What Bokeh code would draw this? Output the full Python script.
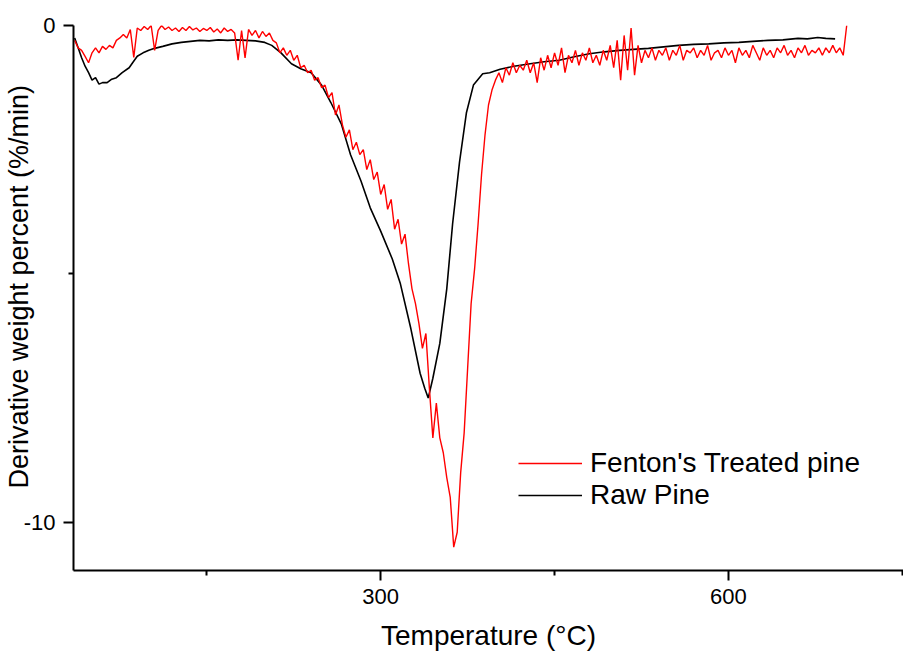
from bokeh.plotting import figure
from bokeh.models import FixedTicker, Legend, LegendItem, Range1d
from bokeh.embed import file_html
from bokeh.resources import INLINE

# ---------------- data ----------------
# Raw pine DTG curve (temperature in degC, derivative weight %/min)
raw_T = [36, 39, 42, 45, 48, 51, 54, 57, 60, 64, 68, 72, 77, 83, 86, 90, 95, 100,
         105, 112, 120, 128, 136, 144, 152, 160, 168, 176, 184, 192, 200, 206,
         214, 223, 231, 240, 249, 257, 266, 274, 283, 291, 300, 310, 317, 326,
         334, 338, 341, 345, 351, 357, 362, 368, 374, 380, 388, 394, 403, 415,
         429, 441, 454, 467, 480, 493, 506, 518, 531, 544, 557, 570, 583, 596,
         609, 621, 634, 647, 660, 668, 677, 684, 692]
raw_dtg = [-0.25, -0.45, -0.65, -0.82, -0.95, -1.1, -1.05, -1.18, -1.15, -1.15,
           -1.08, -1.05, -0.95, -0.85, -0.75, -0.62, -0.55, -0.5, -0.46, -0.42,
           -0.37, -0.34, -0.32, -0.3, -0.31, -0.29, -0.3, -0.29, -0.3, -0.31,
           -0.34, -0.4, -0.55, -0.77, -0.87, -0.95, -1.2, -1.55, -1.98, -2.6,
           -3.13, -3.67, -4.14, -4.7, -5.2, -6.1, -7.0, -7.3, -7.5, -7.1, -6.4,
           -5.3, -4.0, -2.75, -1.75, -1.2, -0.97, -0.95, -0.88, -0.82, -0.77,
           -0.73, -0.7, -0.63, -0.57, -0.53, -0.5, -0.48, -0.46, -0.43, -0.4,
           -0.38, -0.37, -0.35, -0.34, -0.32, -0.3, -0.29, -0.26, -0.27, -0.24,
           -0.26, -0.27]

# Fenton's treated pine DTG curve, sampled every 3 degC from 36 degC
fenton_T_start = 36
fenton_T_step = 3
fenton_dtg = [
    -0.3, -0.45, -0.5, -0.62, -0.75, -0.55, -0.45, -0.55, -0.42, -0.48,   # 36-63
    -0.4, -0.45, -0.3, -0.25, -0.18, -0.25, -0.08, -0.64, -0.05, -0.1,    # 66-93
    -0.02, -0.08, 0.0, -0.5, -0.1, 0.0, -0.08, -0.03, -0.1, -0.05,        # 96-123
    -0.12, -0.04, -0.1, -0.02, -0.09, -0.05, -0.12, -0.06, -0.1, -0.04,   # 126-153
    -0.13, -0.07, -0.15, -0.05, -0.12, -0.08, -0.15, -0.7, -0.1, -0.65,   # 156-183
    -0.08, -0.2, -0.1, -0.25, -0.12, -0.22, -0.15, -0.3, -0.35, -0.55,    # 186-213
    -0.45, -0.6, -0.5, -0.7, -0.6, -0.85, -0.8, -0.95, -0.9, -1.1,        # 216-243
    -1.05, -1.25, -1.2, -1.45, -1.35, -1.8, -1.6, -2.0, -2.25, -2.1,      # 246-273
    -2.5, -2.35, -2.6, -2.5, -2.9, -2.7, -3.1, -2.95, -3.4, -3.2,         # 276-303
    -3.7, -3.5, -4.1, -3.9, -4.4, -4.2, -4.8, -5.3, -5.6, -6.0,           # 306-333
    -6.5, -6.2, -7.3, -8.3, -7.6, -8.3, -8.6, -9.1, -9.5, -10.5,          # 336-363
    -10.2, -9.0, -8.2, -6.9, -5.6, -4.9, -4.0, -3.0, -2.2, -1.6,          # 366-393
    -1.3, -1.1, -0.95, -1.15, -0.85, -1.0, -0.75, -0.95, -0.8, -0.9,      # 396-423
    -0.7, -0.95, -0.75, -1.15, -0.65, -0.9, -0.6, -0.85, -0.55, -0.8,     # 426-453
    -0.45, -0.95, -0.6, -0.75, -0.5, -0.8, -0.55, -0.7, -0.45, -0.75,     # 456-483
    -0.6, -0.8, -0.5, -0.7, -0.4, -0.85, -0.3, -1.1, -0.2, -0.9,          # 486-513
    -0.05, -1.0, -0.4, -0.75, -0.5, -0.65, -0.45, -0.7, -0.5, -0.6,       # 516-543
    -0.45, -0.7, -0.5, -0.6, -0.4, -0.7, -0.5, -0.55, -0.45, -0.65,       # 546-573
    -0.5, -0.6, -0.4, -0.7, -0.55, -0.5, -0.65, -0.45, -0.6, -0.5,        # 576-603
    -0.75, -0.45, -0.6, -0.5, -0.65, -0.4, -0.55, -0.7, -0.45, -0.6,      # 606-633
    -0.5, -0.65, -0.45, -0.55, -0.4, -0.6, -0.5, -0.65, -0.45, -0.55,     # 636-663
    -0.4, -0.6, -0.5, -0.55, -0.45, -0.6, -0.45, -0.55, -0.4, -0.55,      # 666-693
    -0.45, -0.6, 0.0,                                                     # 696-702
]
fenton_T = [fenton_T_start + fenton_T_step * i for i in range(len(fenton_dtg))]

series_labels = ["Fenton's Treated pine", "Raw Pine"]
x_ticks = [300, 600]
x_minor_ticks = [150, 450, 750]
y_ticks = [0, -10]
y_minor_ticks = [-5]
x_title = "Temperature (\u00b0C)"
y_title = "\u00a0\u00a0\u00a0Derivative weight percent (%/min)"

FONT = "Liberation Sans"

# ---------------- figure ----------------
p = figure(width=903, height=659, output_backend="svg", toolbar_location=None,
           x_range=Range1d(35, 751), y_range=Range1d(-10.97, 0),
           min_border_left=73, min_border_right=0, min_border_top=25,
           min_border_bottom=89)
p.outline_line_color = None
p.grid.visible = False
p.background_fill_color = "white"
p.border_fill_color = "white"

raw_r = p.line(raw_T, raw_dtg, line_color="black", line_width=1.6)
fen_r = p.line(fenton_T, fenton_dtg, line_color="#ff0000", line_width=1.4)

for ax, ticks, minor in ((p.xaxis, x_ticks, x_minor_ticks), (p.yaxis, y_ticks, y_minor_ticks)):
    ax.ticker = FixedTicker(ticks=ticks, minor_ticks=minor)
    ax.major_label_overrides = {t: str(t) for t in ticks}
    ax.axis_line_width = 2
    ax.axis_line_color = "black"
    ax.major_tick_line_width = 2
    ax.minor_tick_line_width = 2
    ax.major_tick_out = 10
    ax.major_tick_in = 0
    ax.minor_tick_out = 5
    ax.minor_tick_in = 0
    ax.major_label_text_font = FONT
    ax.major_label_text_font_size = "22px"
    ax.major_label_text_color = "black"
    ax.major_label_standoff = 8
    ax.axis_label_text_font = FONT
    ax.axis_label_text_font_style = "normal"
    ax.axis_label_text_color = "black"

p.xaxis.axis_label = x_title
p.xaxis.axis_label_text_font_size = "28px"
p.xaxis.axis_label_standoff = 13

# y title overlaps the tick-label column (different heights), as in the original
p.yaxis.axis_label = y_title
p.yaxis.axis_label_text_font_size = "27px"
p.yaxis.axis_label_standoff = -13

legend = Legend(items=[LegendItem(label=series_labels[0], renderers=[fen_r]),
                       LegendItem(label=series_labels[1], renderers=[raw_r])],
                location=(445, 59), orientation="vertical")
legend.background_fill_alpha = 0
legend.border_line_color = None
legend.padding = 0
legend.margin = 0
legend.spacing = 0
legend.glyph_width = 64
legend.glyph_height = 30
legend.label_height = 30
legend.label_standoff = 8
legend.label_text_font = FONT
legend.label_text_font_size = "28px"
legend.label_text_color = "black"
p.add_layout(legend)

open("out.html", "w").write(file_html(p, INLINE))
